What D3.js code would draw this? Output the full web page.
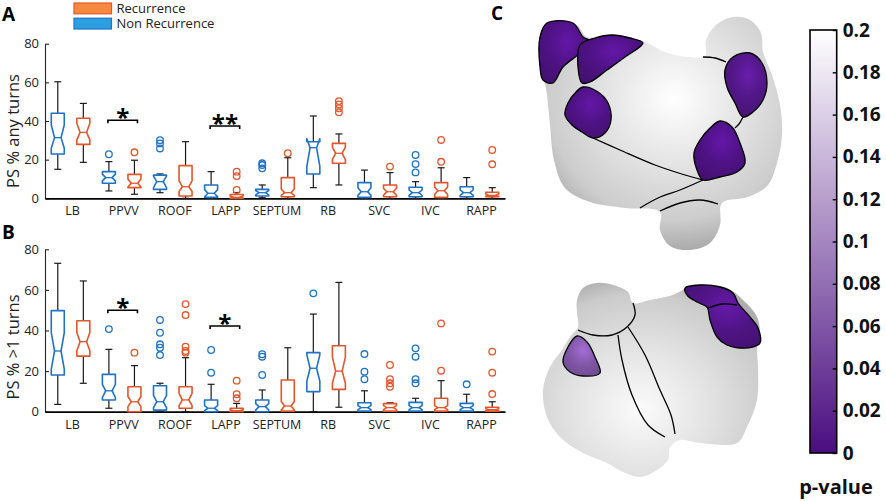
<!DOCTYPE html>
<html lang="en">
<head>
<meta charset="UTF-8">
<title>PS boxplots</title>
<script src="https://d3js.org/d3.v7.min.js"></script>
<style>
    body { margin: 0; background: #fff; }
    svg { display: block; }
    text { font-family: "Open Sans", sans-serif; fill: #222; }
    .tick text { font-size: 13px; }
    .cat-axis .tick text { font-size: 12.5px; }
    .cbar .tick text { font-size: 19px; font-weight: bold; fill: #111; }
    .panel-label { font-size: 19px; font-weight: bold; fill: #000; }
</style>
</head>
<body>
<script>
    const width = 886, height = 501;

    const categories = ["LB", "PPVV", "ROOF", "LAPP", "SEPTUM", "RB", "SVC", "IVC", "RAPP"];
    const yTicks = [0, 20, 40, 60, 80];
    const pTicks = [0, 0.02, 0.04, 0.06, 0.08, 0.1, 0.12, 0.14, 0.16, 0.18, 0.2];

    // box stats: [whisker low, q1, notch low, median, notch high, q3, whisker high]
    const anyNonRec = [
        [15, 22.9, 25.9, 31.4, 37.9, 44, 60.3],
        [3.8, 7.8, 9, 10.7, 12.5, 13.8, 19],
        [2.9, 4.6, 5.5, 8.6, 11.5, 12, 12.6],
        [0, 0.5, 0.8, 2.6, 4.5, 6.9, 13.8],
        [0.3, 1.2, 1.8, 2.9, 4, 4.6, 6.9],
        [5.5, 12.6, 16.5, 26.2, 30.8, 29.3, 42.6],
        [0, 0.5, 1.5, 3.4, 5.5, 8.1, 14.6],
        [0, 0.8, 1.5, 2.9, 4.3, 5.7, 8.6],
        [0, 0.8, 1.5, 2.9, 4.3, 6, 10.7]
    ];
    const anyNonRecOut = [[], [22.8], [25.8, 28.4, 30.1], [], [15.5, 17.2, 18.1], [], [], [13.4, 17.7, 22.4], []];

    const anyRec = [
        [18.6, 27.9, 30.2, 34.1, 38.8, 41.4, 49.1],
        [2.1, 5.5, 5.8, 7.8, 10, 12.4, 19.7],
        [0, 1.2, 3.5, 6, 9, 16.9, 29.3],
        [0, 0, 0.2, 0.5, 1.2, 2, 3],
        [0, 0.8, 1.5, 2.9, 4.8, 10.7, 21],
        [6.9, 18.1, 20, 23.3, 26.5, 28.4, 33.3],
        [0, 0.8, 1.5, 3.4, 5.2, 6.9, 13.3],
        [0, 0.5, 2, 3.9, 5.8, 8.1, 15.8],
        [0, 0.8, 1, 1.5, 2.2, 3.1, 5.5]
    ];
    const anyRecOut = [[], [23.8], [], [4.3, 11.5, 13.8], [23.3], [44.5, 46.6, 48.6, 50.3], [16.4], [18.9, 30.2], [17.6, 25]];

    const moreNonRec = [
        [3.6, 18.1, 21, 29.9, 39, 49.8, 73.1],
        [1.7, 5.8, 7, 10.3, 13.5, 18.4, 30.7],
        [0, 0.8, 2, 4.9, 8, 12.8, 14],
        [0, 0, 0.5, 1.7, 3, 5.8, 13.5],
        [0, 0, 0.8, 2.5, 4, 5.8, 10.7],
        [0, 9.9, 15, 21.4, 28, 29.1, 48.1],
        [0, 0.3, 1, 2, 3, 4.4, 10.3],
        [0, 0.3, 1, 2, 3, 4.6, 6.6],
        [0, 0.3, 1, 2, 3, 4.1, 8.6]
    ];
    const moreNonRecOut = [[], [40.7], [27.9, 31.5, 33.2, 38.9, 45.2], [19.2, 30.4], [18.1, 27.1, 28.3], [58.3], [16, 19.7, 28.4], [14, 16, 27.1, 31.2], [13.5]];

    const moreRec = [
        [14, 27.4, 30, 34.5, 39, 44.8, 64.4],
        [0, 0, 2.5, 4.9, 7.5, 12.3, 22.7],
        [0, 1.7, 3, 5.8, 9, 12.3, 26.6],
        [0, 0, 0.2, 0.5, 1, 1.7, 4.1],
        [0, 0.3, 0.8, 2.8, 5, 15.6, 31.5],
        [2.2, 11, 14, 20, 27, 32.5, 63.7],
        [0, 0.3, 1, 2, 3, 4, 4.4],
        [0, 0.3, 1, 2, 3, 6.6, 15.3],
        [0, 0.3, 0.5, 1, 1.5, 2.2, 4.9]
    ];
    const moreRecOut = [[], [29.1], [29.1, 29.9, 32, 47.6, 53], [6.6, 8.6, 15.3], [], [], [12.3, 14, 16, 23], [20.2, 43.5], [8.7, 19.2, 29.6]];

    const anySig = [{cat: "PPVV", value: 40.4, mark: "*"}, {cat: "LAPP", value: 37.4, mark: "**"}];
    const moreSig = [{cat: "PPVV", value: 50, mark: "*"}, {cat: "LAPP", value: 42.2, mark: "*"}];

    const blue = "#1f73c6", orange = "#e4562a";

    const svg = d3.select("body").append("svg")
        .attr("width", width).attr("height", height);
    const defs = svg.append("defs");

    // ---------- box plot panels ----------
    const x = d3.scaleLinear().domain([-0.5, 17.5]).range([45, 505]);
    const boxHalf = 6.5;

    const panels = [
        {id: "A", title: "PS % any turns", top: 43.7, bottom: 198.3, titleY: 131, labelY: 21,
         groups: [{stats: anyNonRec, out: anyNonRecOut, color: blue}, {stats: anyRec, out: anyRecOut, color: orange}],
         sig: anySig},
        {id: "B", title: "PS % >1 turns", top: 249.3, bottom: 411.7, titleY: 347, labelY: 239,
         groups: [{stats: moreNonRec, out: moreNonRecOut, color: blue}, {stats: moreRec, out: moreRecOut, color: orange}],
         sig: moreSig}
    ];

    panels.forEach(p => {
        const y = d3.scaleLinear().domain([0, 80]).range([p.bottom, p.top]);
        const g = svg.append("g");

        g.append("g")
            .attr("transform", `translate(${x.range()[0]},0)`)
            .call(d3.axisLeft(y).tickValues(yTicks).tickSizeInner(-4).tickSizeOuter(0).tickPadding(6))
            .call(a => a.selectAll("path, line").attr("stroke", "#262626").attr("stroke-width", 1.1));

        g.append("g").attr("class", "cat-axis")
            .attr("transform", `translate(0,${y(0)})`)
            .call(d3.axisBottom(x).tickValues(categories.map((c, i) => 2 * i + 0.56))
                .tickFormat((d, i) => categories[i]).tickSize(0).tickPadding(8))
            .call(a => a.select(".domain").attr("stroke", "#000").attr("stroke-width", 1.8));

        g.append("text")
            .attr("transform", `translate(19,${p.titleY}) rotate(-90)`)
            .attr("text-anchor", "middle").style("font-size", "16.5px")
            .text(p.title);

        g.append("text").attr("class", "panel-label")
            .attr("x", 2).attr("y", p.labelY).text(p.id);

        p.groups.forEach((grp, gi) => {
            grp.stats.forEach((s, ci) => {
                const [wlo, q1, nlo, med, nhi, q3, whi] = s;
                const cx = x(2 * ci + gi);
                const bg = g.append("g");
                // whiskers
                [[q3, whi], [q1, wlo]].forEach(([a, b]) => {
                    if (a === b) return;
                    bg.append("line").attr("x1", cx).attr("x2", cx)
                        .attr("y1", y(a)).attr("y2", y(b))
                        .attr("stroke", "#1a1a1a").attr("stroke-width", 1.2);
                    bg.append("line").attr("x1", cx - 3.5).attr("x2", cx + 3.5)
                        .attr("y1", y(b)).attr("y2", y(b))
                        .attr("stroke", "#1a1a1a").attr("stroke-width", 1.2);
                });
                // notched box
                const pts = [
                    [cx - boxHalf, y(q1)], [cx - boxHalf, y(nlo)], [cx - boxHalf / 2, y(med)],
                    [cx - boxHalf, y(nhi)], [cx - boxHalf, y(q3)], [cx + boxHalf, y(q3)],
                    [cx + boxHalf, y(nhi)], [cx + boxHalf / 2, y(med)], [cx + boxHalf, y(nlo)],
                    [cx + boxHalf, y(q1)]
                ];
                bg.append("path")
                    .attr("d", d3.line()(pts) + "Z")
                    .attr("fill", "#fff").attr("stroke", grp.color)
                    .attr("stroke-width", 1.6).attr("stroke-linejoin", "round");
                bg.append("line")
                    .attr("x1", cx - boxHalf / 2).attr("x2", cx + boxHalf / 2)
                    .attr("y1", y(med)).attr("y2", y(med))
                    .attr("stroke", grp.color).attr("stroke-width", 1.3);
                // outliers
                bg.selectAll("circle").data(grp.out[ci]).join("circle")
                    .attr("cx", cx).attr("cy", d => y(d)).attr("r", 3.3)
                    .attr("fill", "none").attr("stroke", grp.color).attr("stroke-width", 1.3);
            });
        });

        // significance brackets
        p.sig.forEach(sg => {
            const ci = categories.indexOf(sg.cat);
            const x1 = x(2 * ci) - 1, x2 = x(2 * ci + 1) + 3, yy = y(sg.value);
            g.append("path")
                .attr("d", `M${x1},${yy + 3}V${yy}H${x2}V${yy + 3}`)
                .attr("fill", "none").attr("stroke", "#000").attr("stroke-width", 1.6);
            g.append("text")
                .attr("x", (x1 + x2) / 2).attr("y", yy + 6)
                .attr("text-anchor", "middle")
                .style("font-size", "24px").style("font-weight", "bold").style("fill", "#000")
                .text(sg.mark);
        });
    });

    // legend
    const legendItems = [{name: "Recurrence", fill: "#f5893f", stroke: orange},
                         {name: "Non Recurrence", fill: "#2b9fe0", stroke: blue}];
    const legend = svg.append("g").attr("transform", "translate(74,3)");
    legendItems.forEach((d, i) => {
        legend.append("rect").attr("x", 0).attr("y", i * 15.2)
            .attr("width", 37.5).attr("height", 10.8)
            .attr("fill", d.fill).attr("stroke", d.stroke).attr("stroke-width", 1.2);
        legend.append("text").attr("x", 42.5).attr("y", i * 15.2 + 10)
            .style("font-size", "13px").text(d.name);
    });

    // ---------- panel C: atrial shells ----------
    const pColor = d3.scaleLinear().domain([0, 0.2]).range(["#4a0d80", "#ffffff"]);

    const bodyGrad = defs.append("radialGradient").attr("id", "shell")
        .attr("cx", "55%").attr("cy", "35%").attr("r", "65%");
    [[0, "#ffffff"], [0.4, "#e6e6e6"], [0.8, "#cdcdcd"], [1, "#ababab"]]
        .forEach(([o, c]) => bodyGrad.append("stop").attr("offset", o).attr("stop-color", c));
    const bodyGrad2 = defs.append("radialGradient").attr("id", "shell2")
        .attr("cx", "45%").attr("cy", "65%").attr("r", "70%");
    [[0, "#fbfbfb"], [0.45, "#e3e3e3"], [0.85, "#cbcbcb"], [1, "#adadad"]]
        .forEach(([o, c]) => bodyGrad2.append("stop").attr("offset", o).attr("stop-color", c));

    function purpleGrad(id, p) {
        const base = d3.color(pColor(p));
        const gr = defs.append("radialGradient").attr("id", id)
            .attr("cx", "55%").attr("cy", "35%").attr("r", "70%");
        gr.append("stop").attr("offset", 0).attr("stop-color", base.brighter(0.7));
        gr.append("stop").attr("offset", 0.55).attr("stop-color", base);
        gr.append("stop").attr("offset", 1).attr("stop-color", base.darker(0.4));
        return `url(#${id})`;
    }

    const topShell = [[2,45],[8,28],[22,21],[37,25],[47,37],[65,35],[88,37],[105,42],[125,52],[148,57],[165,56],
        [166,40],[176,25],[193,17],[210,20],[221,33],[223,52],[232,75],[240,105],[242,135],[237,163],[228,185],
        [208,197],[182,203],[180,225],[170,243],[150,250],[130,246],[120,230],[120,212],[85,208],[50,202],
        [25,188],[14,160],[10,125],[7,95],[3,70]];
    const topRegions = [
        {p: 0.004, pts: [[0,37],[7,23],[33,23],[43,37],[50,41],[40,53],[23,67],[13,83],[3,80],[0,67]]},
        {p: 0.004, pts: [[40,45],[55,38],[72,35],[90,38],[103,43],[85,57],[67,70],[50,82],[42,83],[38,67]]},
        {p: 0.004, pts: [[43,87],[58,92],[68,103],[71,120],[65,133],[53,138],[42,132],[32,125],[25,115],[28,103],[36,92]]},
        {p: 0.008, pts: [[193,57],[210,53],[222,63],[227,83],[223,100],[213,112],[203,117],[195,103],[187,87],[185,70]]},
        {p: 0.004, pts: [[180,121],[192,127],[200,143],[205,163],[197,172],[180,177],[163,180],[157,170],[154,153],[160,140],[170,128]]}
    ];
    const topLines = [
        [[53,138],[80,150],[115,165],[145,175],[163,180]],
        [[163,180],[140,190],[118,198],[100,208]],
        [[120,211],[140,203],[160,200],[178,204]],
        [[163,57],[175,58],[186,62]],
        [[203,117],[199,124],[195,128]]
    ];

    const botShell = [[37,50],[43,38],[57,33],[73,35],[88,42],[93,53],[110,50],[133,45],[147,38],[160,35],
        [187,38],[203,50],[217,67],[220,87],[217,97],[218,117],[217,150],[207,177],[197,193],[160,193],
        [140,190],[130,197],[128,210],[117,220],[100,227],[83,222],[67,213],[43,203],[20,187],[7,167],
        [3,140],[10,117],[22,100],[30,87],[38,77],[37,63]];
    const botRegions = [
        {p: 0.006, pts: [[145,38],[160,35],[180,37],[193,43],[198,53],[210,67],[218,78],[220,93],[213,97],[200,98],
            [187,95],[177,87],[170,70],[167,57],[157,52],[147,45]]},
        {p: 0.06, pts: [[37,86],[47,92],[55,107],[60,123],[43,126],[30,122],[23,112],[28,97]]}
    ];
    const botLines = [
        [[168,58],[182,54],[197,55]],
        [[38,80],[53,85],[72,85],[87,77],[95,65],[93,53]],
        [[78,85],[82,110],[92,145],[108,175],[125,187]],
        [[88,77],[105,105],[120,140],[131,165],[135,184]]
    ];

    function drawShell(shell, regions, lines, y0, grad, key) {
        const sx = d3.scaleLinear().domain([0, 250]).range([540, 790]);
        const sy = d3.scaleLinear().domain([0, 250]).range([y0, y0 + 250]);
        const closed = d3.line().x(d => sx(d[0])).y(d => sy(d[1])).curve(d3.curveCatmullRomClosed);
        const open = d3.line().x(d => sx(d[0])).y(d => sy(d[1])).curve(d3.curveCatmullRom);
        const g = svg.append("g");
        g.append("path").attr("d", closed(shell)).attr("fill", grad);
        regions.forEach((r, i) => {
            g.append("path").attr("d", closed(r.pts))
                .attr("fill", purpleGrad(`pg${key}${i}`, r.p))
                .attr("stroke", "#000").attr("stroke-width", 1.3);
        });
        lines.forEach(l => {
            g.append("path").attr("d", open(l)).attr("fill", "none")
                .attr("stroke", "#000").attr("stroke-width", 1.3);
        });
    }
    drawShell(topShell, topRegions, topLines, 0, "url(#shell)", "t");
    drawShell(botShell, botRegions, botLines, 250, "url(#shell2)", "b");

    svg.append("text").attr("class", "panel-label").attr("x", 491).attr("y", 20).text("C");

    // ---------- colour bar ----------
    const cb = d3.scaleLinear().domain([0, 0.2]).range([453, 30]);
    const cbGrad = defs.append("linearGradient").attr("id", "cbar")
        .attr("x1", 0).attr("y1", 1).attr("x2", 0).attr("y2", 0);
    d3.range(0, 1.0001, 0.1).forEach(t => cbGrad.append("stop")
        .attr("offset", t).attr("stop-color", pColor(t * 0.2)));
    svg.append("rect").attr("x", 810).attr("y", cb(0.2))
        .attr("width", 26.7).attr("height", cb(0) - cb(0.2))
        .attr("fill", "url(#cbar)").attr("stroke", "#000").attr("stroke-width", 1.6);
    svg.append("g").attr("class", "cbar")
        .attr("transform", "translate(836.7,0)")
        .call(d3.axisRight(cb).tickValues(pTicks).tickFormat(d3.format("~g"))
            .tickSizeInner(-4).tickSizeOuter(0).tickPadding(6))
        .call(a => a.select(".domain").remove())
        .call(a => a.selectAll("line").attr("stroke", "#000").attr("stroke-width", 1.4));
    svg.append("text").attr("x", 836).attr("y", 494)
        .attr("text-anchor", "middle")
        .style("font-size", "20px").style("font-weight", "bold").style("fill", "#111")
        .text("p-value");
</script>
</body>
</html>
